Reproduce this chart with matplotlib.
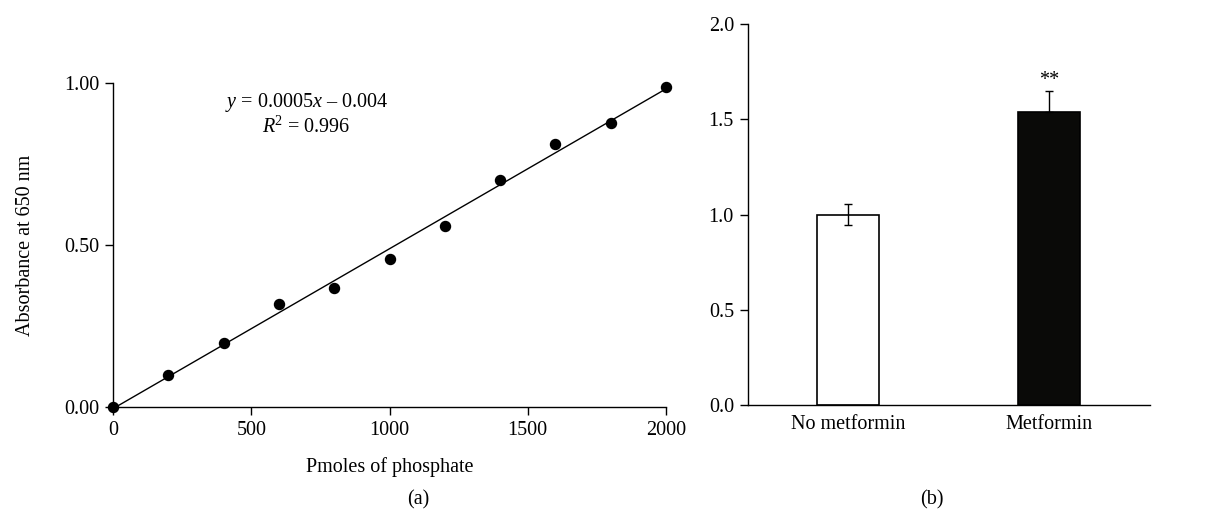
import numpy as np
from matplotlib import pyplot as plt

plt.rcParams['font.family'] = ['Liberation Serif', 'DejaVu Serif']
plt.rcParams['mathtext.fontset'] = 'custom'
plt.rcParams['mathtext.rm'] = 'Liberation Serif'
plt.rcParams['mathtext.it'] = 'Liberation Serif:italic'

# panel (a): standard curve
pmoles = [0, 200, 400, 600, 800, 1000, 1200, 1400, 1600, 1800, 2000]
absorbance = [0.0, 0.098, 0.197, 0.318, 0.366, 0.458, 0.56, 0.701, 0.811, 0.876, 0.988]

# panel (b): bars
groups = ['No metformin', 'Metformin']
values = [1.0, 1.54]
err_low = [0.055, 0.0]
err_high = [0.055, 0.11]

FS = 14.5

fig = plt.figure(figsize=(12.18, 5.12), dpi=100)

ax1 = fig.add_axes([0.0928, 0.205, 0.454, 0.633])
ax1.scatter(pmoles, absorbance, s=52, color='black', zorder=3, clip_on=False)
slope, intercept = np.polyfit(pmoles, absorbance, 1)
xs = np.array([0, 2000])
ax1.plot(xs, slope * xs + intercept, color='black', lw=1.0, clip_on=False)
ax1.set_xlim(0, 2000)
ax1.set_ylim(0, 1.0)
ax1.set_xticks([0, 500, 1000, 1500, 2000])
ax1.set_yticks([0.0, 0.5, 1.0])
ax1.set_yticklabels(['0.00', '0.50', '1.00'])
ax1.set_xlabel('Pmoles of phosphate', fontsize=FS, labelpad=12)
ax1.set_ylabel('Absorbance at 650 nm', fontsize=FS, labelpad=21)
ax1.text(0.35, 0.94, '$y$ = 0.0005$x$ \u2013 0.004', transform=ax1.transAxes,
         ha='center', va='center', fontsize=FS)
ax1.text(0.35, 0.862, '$R$$^2$ = 0.996', transform=ax1.transAxes,
         ha='center', va='center', fontsize=FS)

ax2 = fig.add_axes([0.614, 0.209, 0.33, 0.744])
xpos = np.arange(len(groups))
ax2.bar(xpos, values, width=0.31, color=['white', '#0a0a08'],
        edgecolor='black', linewidth=1.2, zorder=2)
ax2.errorbar(xpos, values, yerr=[err_low, err_high], fmt='none',
             ecolor='black', elinewidth=1.0, capsize=3, capthick=1.0, zorder=3)
ax2.text(1, values[1] + err_high[1] + 0.005, '**', ha='center', va='bottom', fontsize=FS)
ax2.set_xlim(-0.5, 1.5)
ax2.set_ylim(0, 2.0)
ax2.set_xticks(xpos)
ax2.set_xticklabels(groups)
ax2.set_yticks([0.0, 0.5, 1.0, 1.5, 2.0])
ax2.set_yticklabels(['0.0', '0.5', '1.0', '1.5', '2.0'])

for ax in (ax1, ax2):
    ax.spines['top'].set_visible(False)
    ax.spines['right'].set_visible(False)
    for s in ('left', 'bottom'):
        ax.spines[s].set_linewidth(1.0)
    ax.tick_params(labelsize=FS, width=1.0, length=6, direction='out', pad=4)
ax2.tick_params(axis='x', length=0, pad=7)

fig.text(0.343, 0.024, '(a)', ha='center', va='center', fontsize=FS)
fig.text(0.765, 0.024, '(b)', ha='center', va='center', fontsize=FS)

fig.savefig('out.png', dpi=100)
